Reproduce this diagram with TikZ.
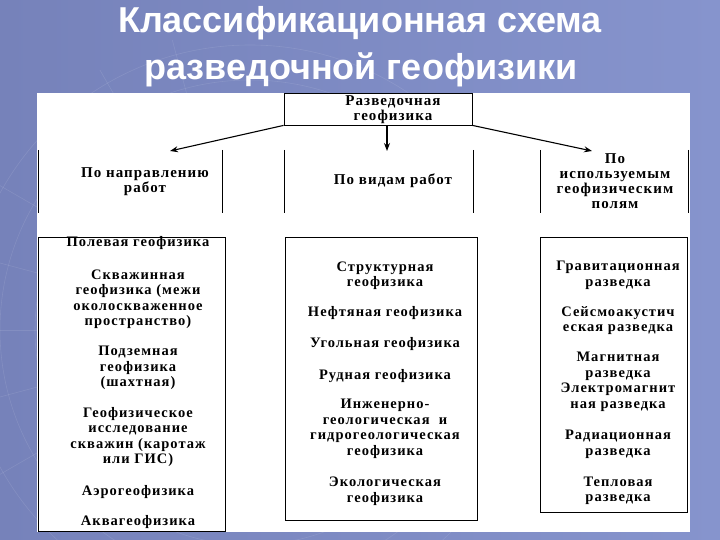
\documentclass[tikz,border=0pt]{standalone}
\usepackage{fontspec}
\setmainfont{Liberation Serif}
\newfontfamily\titlefont{Liberation Sans}
\newfontfamily\boxfont{Liberation Serif}[LetterSpace=7]
\usetikzlibrary{arrows.meta}
\definecolor{bgL}{RGB}{118,130,186}
\definecolor{bgR}{RGB}{134,148,205}
\tikzset{
  txt/.style={align=center, inner sep=0pt, font=\boxfont\bfseries\fontsize{14.5}{15.5}\selectfont},
  hdr/.style={align=center, inner sep=0pt, font=\boxfont\bfseries\fontsize{15}{15}\selectfont},
  ttl/.style={align=center, inner sep=0pt, text=white, font=\titlefont\bfseries\fontsize{36}{48}\selectfont},
  frame/.style={draw=black, line width=0.8pt},
  arr/.style={draw=black, line width=1.1pt, -{Stealth[length=8pt,width=6pt]}},
  grid/.style={draw=white, opacity=0.1, line width=0.6pt}
}
\begin{document}
\begin{tikzpicture}[x=1pt,y=-1pt]
\useasboundingbox (0,0) rectangle (720,540);
\shade[left color=bgL, right color=bgR] (0,0) rectangle (720,540);
% faint globe grid lower left
\begin{scope}
\clip (0,0) rectangle (720,540);
\foreach \r in {180,215,250,285} \draw[grid] (250,330) circle (\r);
\foreach \a in {150,165,180,195,210,225,240,255} \draw[grid] (250,330) -- ++(\a:300);
\end{scope}
% title
\node[ttl] (title1) at (360,23) {Классификационная схема};
\node[ttl] (title2) at (361,70) {разведочной геофизики};
% white panel
\fill[white] (37,93) rectangle (690,532);
% top box
\node[frame, minimum width=188pt, minimum height=32pt, inner sep=0pt] (top) at (378,109) {};
\node[hdr] (toptxt) at (393,109.5) {Разведочная\\геофизика};
% middle row brackets
\draw[frame] (38,150) -- (38,213);
\draw[frame] (222,150) -- (222,213);
\draw[frame] (284,150) -- (284,213);
\draw[frame] (473,150) -- (473,213);
\draw[frame] (540,150) -- (540,213);
\draw[frame] (688,150) -- (688,213);
\node[hdr] (dir) at (145,182) {По направлению\\работ};
\node[hdr] (kind) at (393,181) {По видам работ};
\begin{scope}
\clip (541,140) rectangle (687,213);
\node[hdr, anchor=north] (field) at (615,153) {По\\используемым\\геофизическим\\полям};
\end{scope}
% arrows
\coordinate (a1) at (170,151);
\coordinate (a2) at (387,151);
\coordinate (a3) at (592,151);
\draw[arr] (top.south west) -- (a1);
\draw[arr] (top.south -| a2) -- (a2);
\draw[arr] (top.south east) -- (a3);
% bottom boxes
\draw[frame] (38,237) rectangle (225,531);
\draw[frame] (285,237) rectangle (477,520);
\draw[frame] (540,237) rectangle (687,512);
% left column
\node[txt] (l1) at (138,243) {Полевая геофизика};
\node[txt] (l2) at (138,299) {Скважинная\\геофизика (межи\\околоскваженное\\пространство)};
\node[txt] (l3) at (138,368) {Подземная\\геофизика\\(шахтная)};
\node[txt] (l4) at (138,437) {Геофизическое\\исследование\\скважин (каротаж\\или ГИС)};
\node[txt] (l5) at (138,492) {Аэрогеофизика};
\node[txt] (l6) at (138,522) {Аквагеофизика};
% middle column
\node[txt] (m1) at (385,275.5) {Структурная\\геофизика};
\node[txt] (m2) at (385,313) {Нефтяная геофизика};
\node[txt] (m3) at (385,344) {Угольная геофизика};
\node[txt] (m4) at (385,376) {Рудная геофизика};
\node[txt] (m5) at (385,429) {Инженерно-\\геологическая~~и\\гидрогеологическая\\геофизика};
\node[txt] (m6) at (385,491) {Экологическая\\геофизика};
% right column
\node[txt] (r1) at (618,275.5) {Гравитационная\\разведка};
\node[txt] (r2) at (618,320.5) {Сейсмоакустич\\еская разведка};
\node[txt] (r3) at (618,382) {Магнитная\\разведка\\Электромагнит\\ная разведка};
\node[txt] (r4) at (618,444.5) {Радиационная\\разведка};
\node[txt] (r5) at (618,491) {Тепловая\\разведка};
\end{tikzpicture}
\end{document}
